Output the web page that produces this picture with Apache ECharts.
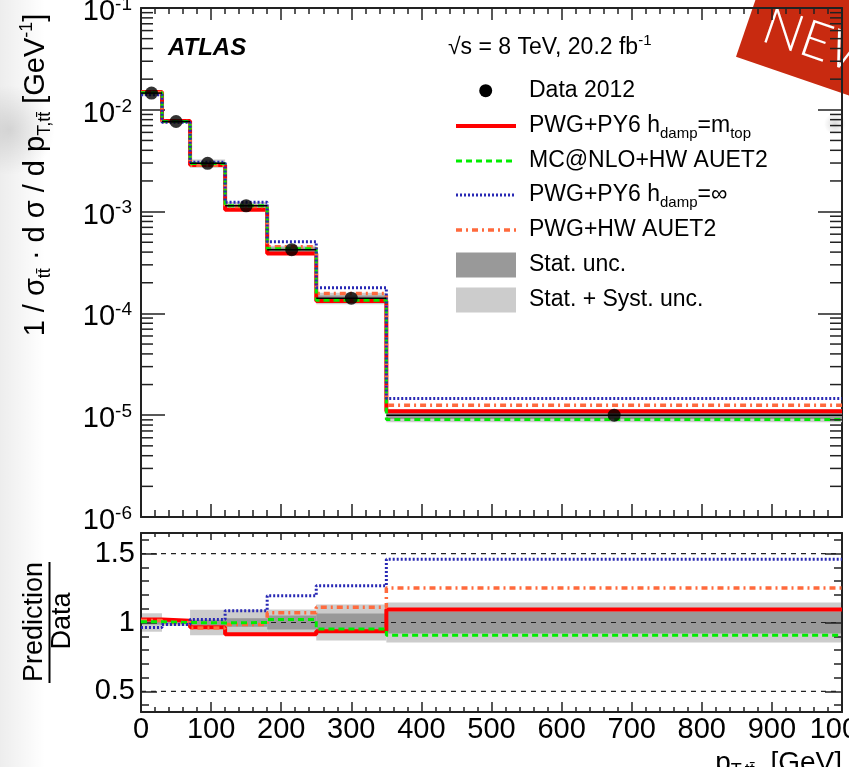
<!DOCTYPE html>
<html>
<head>
<meta charset="utf-8">
<script src="https://cdn.jsdelivr.net/npm/echarts@6/dist/echarts.min.js"></script>
<style>
  html, body { margin: 0; padding: 0; background: #fff; }
  #chart { width: 849px; height: 767px; }
</style>
</head>
<body>
<div id="chart"></div>
<script>
const FONT = '"Liberation Sans", Arial, Helvetica, sans-serif';

// Binning of the top-pair transverse momentum [GeV]
const binEdges = [0, 30, 70, 120, 180, 250, 350, 1000];
const binCentres = [15, 50, 95, 150, 215, 300, 675];

// Normalised differential cross-section, data 2012 [1/GeV]
const data2012 = [1.46e-2, 7.67e-3, 2.98e-3, 1.14e-3, 4.23e-4, 1.41e-4, 1.0e-5];
// Relative uncertainties of the measurement
const statUnc = [0.015, 0.012, 0.02, 0.03, 0.05, 0.065, 0.08];
const totalUnc = [0.067, 0.025, 0.093, 0.093, 0.095, 0.13, 0.145];

// Prediction / Data for each generator setup
const ratioPwgPy6 = [1.022, 1.012, 0.965, 0.915, 0.915, 0.937, 1.095];
const ratioMcnloHw = [1.005, 1.0, 0.997, 1.0, 1.022, 0.953, 0.907];
const ratioPwgPy6Inf = [0.963, 0.985, 1.022, 1.085, 1.194, 1.267, 1.459];
const ratioPwgHw = [1.015, 1.0, 0.96, 0.985, 1.07, 1.11, 1.25];

// Axis tick positions
const logDecades = [-6, -5, -4, -3, -2];
const ratioMajorTicks = [0.5, 1, 1.5];
const ratioMinorTicks = [0.4, 0.6, 0.7, 0.8, 0.9, 1.1, 1.2, 1.3, 1.4, 1.6];
const ratioRefLines = [0.5, 1, 1.5];

const logMinorTicks = [];
logDecades.forEach(e => { for (let m = 2; m <= 9; m++) logMinorTicks.push(m * Math.pow(10, e)); });

const AXIS_COLOR = '#222';
const STAT_COLOR = '#999999';
const TOTAL_COLOR = '#cccccc';

const models = [
  { name: 'PWG+PY6 hdamp=mtop', ratio: ratioPwgPy6, color: '#ff0000', width: 4, dash: 'solid' },
  { name: 'PWG+HW AUET2', ratio: ratioPwgHw, color: '#ff6a3d', width: 3.5, dash: [6, 4, 2, 4] },
  { name: 'MC@NLO+HW AUET2', ratio: ratioMcnloHw, color: '#00ee00', width: 3, dash: [6, 4] },
  { name: 'PWG+PY6 hdamp=inf', ratio: ratioPwgPy6Inf, color: '#2828b4', width: 3, dash: [2, 2] }
];

function stepData(values) {
  const pts = binEdges.slice(0, -1).map((x, i) => [x, values[i]]);
  pts.push([binEdges[binEdges.length - 1], values[values.length - 1]]);
  return pts;
}

function rectRenderer(fill) {
  return function (params, api) {
    const a = api.coord([api.value(0), api.value(3)]);
    const b = api.coord([api.value(1), api.value(2)]);
    return { type: 'rect', shape: { x: a[0], y: a[1], width: b[0] - a[0], height: b[1] - a[1] }, style: { fill: fill } };
  };
}

function hLineRenderer(stroke, width, dash) {
  return function (params, api) {
    const a = api.coord([api.value(0), api.value(2)]);
    const b = api.coord([api.value(1), api.value(2)]);
    return { type: 'line', shape: { x1: a[0], y1: a[1], x2: b[0], y2: b[1] }, style: { stroke: stroke, lineWidth: width, lineDash: dash } };
  };
}

function xAxis(grid, pos, major, minor, withLabels) {
  return {
    type: 'value', gridIndex: grid, position: pos, min: 0, max: 1000, interval: 100,
    axisLine: { show: true, onZero: false, lineStyle: { color: AXIS_COLOR, width: 2 } },
    axisTick: { show: true, inside: true, length: major, lineStyle: { color: AXIS_COLOR, width: 1.5 } },
    minorTick: { show: true, splitNumber: 5, length: minor, lineStyle: { color: AXIS_COLOR, width: 1.5 } },
    splitLine: { show: false }, minorSplitLine: { show: false },
    axisLabel: withLabels ? { show: true, margin: 3, fontSize: 29, fontFamily: FONT, color: '#000', formatter: v => String(v) } : { show: false },
    z: grid === 1 ? 3 : 0
  };
}

function ratioAxis(pos, ticks, len, withLine, withLabels) {
  return {
    type: 'value', gridIndex: 1, position: pos, min: 0.35, max: 1.65,
    axisLine: { show: withLine, onZero: false, lineStyle: { color: AXIS_COLOR, width: 2 } },
    axisTick: { show: true, inside: true, length: len, customValues: ticks, lineStyle: { color: AXIS_COLOR, width: 1.5 } },
    axisLabel: withLabels ? { show: true, customValues: ticks, margin: 6, fontSize: 29, fontFamily: FONT, color: '#000' } : { show: false },
    splitLine: { show: false },
    z: 3
  };
}

function logAxis(pos, withLabels) {
  return {
    type: 'log', gridIndex: 0, position: pos, min: 1e-6, max: 1e-1, logBase: 10,
    axisLine: { show: true, onZero: false, lineStyle: { color: AXIS_COLOR, width: 2 } },
    axisTick: { show: true, inside: true, length: 24, lineStyle: { color: AXIS_COLOR, width: 1.5 } },
    splitLine: { show: false },
    axisLabel: withLabels ? {
      show: true, margin: 9, padding: [8, 0, 0, 0],
      formatter: v => '{b|10}{s|' + Math.round(Math.log10(v)) + '}',
      rich: {
        b: { fontSize: 29, lineHeight: 34, fontFamily: FONT, color: '#000' },
        s: { fontSize: 19, lineHeight: 20, verticalAlign: 'top', fontFamily: FONT, color: '#000' }
      }
    } : { show: false },
    z: 0
  };
}

const series = [];

// ---- top pad: uncertainty bands
series.push({
  type: 'custom', xAxisIndex: 0, yAxisIndex: 0, z: 1, silent: true,
  encode: { x: [0, 1], y: [2, 3] },
  renderItem: rectRenderer(TOTAL_COLOR),
  data: data2012.map((d, i) => [binEdges[i], binEdges[i + 1], d * (1 - totalUnc[i]), d * (1 + totalUnc[i])])
});
series.push({
  type: 'custom', xAxisIndex: 0, yAxisIndex: 0, z: 1, silent: true,
  encode: { x: [0, 1], y: [2, 3] },
  renderItem: rectRenderer(STAT_COLOR),
  data: data2012.map((d, i) => [binEdges[i], binEdges[i + 1], d * (1 - statUnc[i]), d * (1 + statUnc[i])])
});

// ---- top pad: predictions
models.forEach((m, k) => {
  series.push({
    type: 'line', name: m.name, xAxisIndex: 0, yAxisIndex: 0, step: 'end', symbol: 'none', z: 3 + k,
    lineStyle: { color: m.color, width: m.width, type: m.dash },
    data: stepData(data2012.map((d, i) => d * m.ratio[i]))
  });
});

// ---- top pad: data with bin-width bars
series.push({
  type: 'custom', xAxisIndex: 0, yAxisIndex: 0, z: 8, silent: true,
  encode: { x: [0, 1], y: 2 },
  renderItem: hLineRenderer('#000', 1.5, null),
  data: data2012.map((d, i) => [binEdges[i], binEdges[i + 1], d])
});
series.push({
  type: 'scatter', name: 'Data 2012', xAxisIndex: 0, yAxisIndex: 0, z: 9,
  symbol: 'circle', symbolSize: 13, itemStyle: { color: '#000' },
  data: data2012.map((d, i) => [binCentres[i], d])
});

// ---- top pad: minor log ticks on both sides
series.push({
  type: 'custom', xAxisIndex: 0, yAxisIndex: 0, z: 10, silent: true,
  encode: { x: 0, y: 1 },
  renderItem: function (params, api) {
    const l = api.coord([0, api.value(1)]);
    const r = api.coord([1000, api.value(1)]);
    const st = { stroke: AXIS_COLOR, lineWidth: 1.5 };
    return { type: 'group', children: [
      { type: 'line', shape: { x1: l[0], y1: l[1], x2: l[0] + 12, y2: l[1] }, style: st },
      { type: 'line', shape: { x1: r[0] - 12, y1: r[1], x2: r[0], y2: r[1] }, style: st }
    ] };
  },
  data: logMinorTicks.map(v => [0, v])
});

// ---- ratio pad: bands around unity
series.push({
  type: 'custom', xAxisIndex: 2, yAxisIndex: 2, z: 1, silent: true,
  encode: { x: [0, 1], y: [2, 3] },
  renderItem: rectRenderer(TOTAL_COLOR),
  data: totalUnc.map((u, i) => [binEdges[i], binEdges[i + 1], 1 - u, 1 + u])
});
series.push({
  type: 'custom', xAxisIndex: 2, yAxisIndex: 2, z: 1, silent: true,
  encode: { x: [0, 1], y: [2, 3] },
  renderItem: rectRenderer(STAT_COLOR),
  data: statUnc.map((u, i) => [binEdges[i], binEdges[i + 1], 1 - u, 1 + u])
});
series.push({
  type: 'custom', xAxisIndex: 2, yAxisIndex: 2, z: 2, silent: true,
  encode: { x: [0, 1], y: 2 },
  renderItem: hLineRenderer('#222', 1.2, [5, 5]),
  data: ratioRefLines.map(v => [0, 1000, v])
});
models.forEach((m, k) => {
  series.push({
    type: 'line', name: m.name + ' / Data', xAxisIndex: 2, yAxisIndex: 2, step: 'end', symbol: 'none', z: 3 + k,
    lineStyle: { color: m.color, width: m.width, type: m.dash },
    data: stepData(m.ratio)
  });
});

// ---- legend and labels
const LX0 = 456, LX1 = 516, TX = 529;
const legendRows = [90.7, 126, 161, 195, 230, 265, 300];
const subRich = {
  sub: { fontSize: 15, lineHeight: 14, verticalAlign: 'bottom', fontFamily: FONT, fill: '#000' },
  sup: { fontSize: 15, lineHeight: 14, verticalAlign: 'top', fontFamily: FONT, fill: '#000' }
};
function legendText(y, text) {
  return { type: 'text', x: TX, y: y, z: 20, style: { text: text, fontSize: 23, lineHeight: 30, fontFamily: FONT, fill: '#000', align: 'left', verticalAlign: 'middle', rich: subRich } };
}
const legendLabels = ['Data 2012', 'PWG+PY6 h{sub|damp}=m{sub|top}', 'MC@NLO+HW AUET2', 'PWG+PY6 h{sub|damp}=∞', 'PWG+HW AUET2', 'Stat. unc.', 'Stat. + Syst. unc.'];
const legendOrder = [models[0], models[2], models[3], models[1]];

const graphic = [
  // soft background haze on the left border
  { type: 'rect', z: -10, silent: true, shape: { x: 0, y: 0, width: 45, height: 767 },
    style: { fill: { type: 'linear', x: 0, y: 0, x2: 1, y2: 0, colorStops: [{ offset: 0, color: 'rgba(0,0,0,0.07)' }, { offset: 1, color: 'rgba(0,0,0,0)' }] } } },
  { type: 'ellipse', z: -10, silent: true, shape: { cx: 10, cy: 130, rx: 60, ry: 45 },
    style: { fill: { type: 'radial', x: 0.5, y: 0.5, r: 0.5, colorStops: [{ offset: 0, color: 'rgba(0,0,0,0.12)' }, { offset: 1, color: 'rgba(0,0,0,0)' }] } } },
  // white pad edge under the lowest top-pad label
  { type: 'rect', z: 1, silent: true, shape: { x: 70, y: 532, width: 70, height: 10 }, style: { fill: '#fff' } },

  { type: 'text', x: 168, y: 48, z: 20, style: { text: 'ATLAS', fontSize: 24, fontWeight: 'bold', fontStyle: 'italic', fontFamily: FONT, fill: '#000', align: 'left', verticalAlign: 'middle' } },
  { type: 'text', x: 448, y: 48, z: 20, style: { text: '√s = 8 TeV, 20.2 fb{sup|-1}', fontSize: 23, lineHeight: 30, fontFamily: FONT, fill: '#000', align: 'left', verticalAlign: 'middle', rich: subRich } },

  { type: 'circle', z: 20, shape: { cx: 485.7, cy: legendRows[0], r: 6.5 }, style: { fill: '#000' } }
];
legendOrder.forEach((m, k) => {
  graphic.push({ type: 'line', z: 20, shape: { x1: LX0, y1: legendRows[k + 1], x2: LX1, y2: legendRows[k + 1] },
    style: { stroke: m.color, lineWidth: m.width, lineDash: m.dash === 'solid' ? null : m.dash } });
});
graphic.push({ type: 'rect', z: 20, shape: { x: LX0, y: legendRows[5] - 12.5, width: LX1 - LX0, height: 25 }, style: { fill: STAT_COLOR } });
graphic.push({ type: 'rect', z: 20, shape: { x: LX0, y: legendRows[6] - 12.5, width: LX1 - LX0, height: 25 }, style: { fill: TOTAL_COLOR } });
legendLabels.forEach((t, k) => graphic.push(legendText(legendRows[k], t)));

// axis titles
graphic.push({ type: 'text', x: 36, y: 175, rotation: Math.PI / 2, z: 20,
  style: { text: '1 / σ{sub|tt̄} · d σ / d p{sub|T,tt̄} [GeV{sup|-1}]', fontSize: 29, lineHeight: 36, fontFamily: FONT, fill: '#000', align: 'center', verticalAlign: 'middle',
    rich: { sub: { fontSize: 18, lineHeight: 16, verticalAlign: 'bottom', fontFamily: FONT, fill: '#000' }, sup: { fontSize: 18, lineHeight: 16, verticalAlign: 'top', fontFamily: FONT, fill: '#000' } } } });
graphic.push({ type: 'text', x: 35, y: 622, rotation: Math.PI / 2, z: 20,
  style: { text: 'Prediction', fontSize: 27, fontFamily: FONT, fill: '#000', align: 'center', verticalAlign: 'middle' } });
graphic.push({ type: 'line', z: 20, shape: { x1: 49.5, y1: 562, x2: 49.5, y2: 683 }, style: { stroke: '#000', lineWidth: 2 } });
graphic.push({ type: 'text', x: 63, y: 621, rotation: Math.PI / 2, z: 20,
  style: { text: 'Data', fontSize: 27, fontFamily: FONT, fill: '#000', align: 'center', verticalAlign: 'middle' } });
graphic.push({ type: 'text', x: 842, y: 763, z: 20,
  style: { text: 'p{sub|T,tt̄}  [GeV]', fontSize: 28, lineHeight: 34, fontFamily: FONT, fill: '#000', align: 'right', verticalAlign: 'middle',
    rich: { sub: { fontSize: 18, lineHeight: 16, verticalAlign: 'bottom', fontFamily: FONT, fill: '#000' } } } });

// "NEW" corner badge
graphic.push({ type: 'ellipse', z: 19, silent: true, shape: { cx: 835, cy: 124, rx: 60, ry: 11 },
  style: { fill: { type: 'radial', x: 0.5, y: 0.5, r: 0.5, colorStops: [{ offset: 0, color: 'rgba(0,0,0,0.14)' }, { offset: 1, color: 'rgba(0,0,0,0)' }] } } });
graphic.push({ type: 'group', x: 736, y: 56.7, rotation: -0.33, z: 30, children: [
  { type: 'rect', shape: { x: 0, y: -120, width: 240, height: 120 }, style: { fill: '#c82a10' } },
  { type: 'text', x: 16.7, y: -14, style: { text: 'NEW', fill: '#fff', fontSize: 52, fontWeight: 300, fontFamily: 'Lato, "Open Sans", ' + FONT, align: 'left', verticalAlign: 'bottom' } }
] });

const option = {
  animation: false,
  backgroundColor: '#fff',
  grid: [
    { left: 141, top: 8, width: 701, height: 509, outerBoundsMode: 'none', containLabel: false },
    { left: 141, top: 533, width: 701, height: 179, outerBoundsMode: 'none', containLabel: false }
  ],
  xAxis: [
    xAxis(0, 'bottom', 13, 7, false),
    xAxis(0, 'top', 12, 6, false),
    xAxis(1, 'bottom', 10, 5, true),
    xAxis(1, 'top', 7, 4, false)
  ],
  yAxis: [
    logAxis('left', true),
    logAxis('right', false),
    ratioAxis('left', ratioMajorTicks, 16, true, true),
    ratioAxis('left', ratioMinorTicks, 8, false, false),
    ratioAxis('right', ratioMajorTicks, 17, true, false),
    ratioAxis('right', ratioMinorTicks, 8, false, false)
  ],
  series: series,
  graphic: graphic
};

const chart = echarts.init(document.getElementById('chart'));
chart.setOption(option);
</script>
</body>
</html>
